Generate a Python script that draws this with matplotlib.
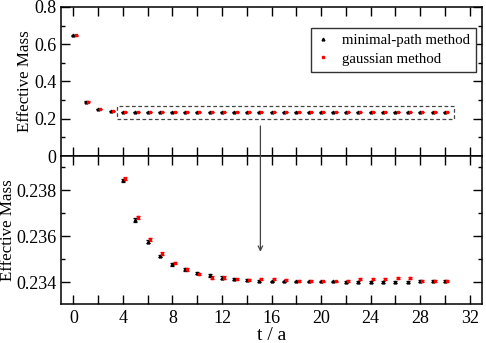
import numpy as np
import matplotlib.pyplot as plt
from matplotlib.patches import Rectangle, ConnectionPatch
from matplotlib.lines import Line2D
from matplotlib.ticker import MultipleLocator

plt.rcParams['font.family'] = ['Liberation Serif', 'DejaVu Serif']

# time slices
t = np.arange(0, 31)

# effective mass, minimal-path method (black)
m_path = [0.647, 0.291, 0.251, 0.2425,
          0.23843, 0.2367, 0.23575, 0.23514, 0.23477, 0.23455, 0.23439,
          0.23429, 0.2342, 0.23413, 0.2341, 0.23406, 0.23403, 0.23403,
          0.23403, 0.23403, 0.23403, 0.23403, 0.23402, 0.23399, 0.234,
          0.234, 0.234, 0.234, 0.23406, 0.23406, 0.23404]
e_path = [0.002, 0.002, 0.001, 0.001,
          0.00007, 0.00007, 0.00007, 0.00006, 0.00005, 0.00005, 0.00005,
          0.00005, 0.00005, 0.00004, 0.00004, 0.00004, 0.00004, 0.00004,
          0.00004, 0.00004, 0.00004, 0.00004, 0.00004, 0.00004, 0.00004,
          0.00004, 0.00004, 0.00004, 0.00004, 0.00004, 0.00004]

# effective mass, gaussian method (red)
m_gauss = [0.647, 0.291, 0.251, 0.2425,
           0.23849, 0.23681, 0.23587, 0.23523, 0.23483, 0.23455, 0.23436,
           0.2342, 0.2342, 0.23413, 0.2341, 0.23414, 0.23413, 0.23409,
           0.23406, 0.23404, 0.23403, 0.23403, 0.23406, 0.23412, 0.23414,
           0.23414, 0.23417, 0.23417, 0.23406, 0.23406, 0.23404]
e_gauss = [0.002, 0.002, 0.001, 0.001,
           0.00007, 0.00007, 0.00007, 0.00006, 0.00005, 0.00005, 0.00005,
           0.00005, 0.00005, 0.00004, 0.00004, 0.00004, 0.00004, 0.00004,
           0.00004, 0.00004, 0.00004, 0.00004, 0.00004, 0.00004, 0.00004,
           0.00004, 0.00004, 0.00004, 0.00004, 0.00004, 0.00004]

labels = ['minimal-path method', 'gaussian method']

dx = 0.18   # red points shifted a bit to the right
t_zoom = 4  # first slice shown in lower panel

fig = plt.figure(figsize=(4.86, 3.43), dpi=100)
ax1 = fig.add_axes([0.1255, 0.545, 0.8665, 0.435])
ax2 = fig.add_axes([0.1255, 0.1137, 0.8665, 0.4313])

def plot_pts(ax, sl):
    ax.errorbar(t[sl], np.array(m_path)[sl], yerr=np.array(e_path)[sl], fmt='^',
                color='k', ms=2.0, elinewidth=0.9, capsize=1.5, capthick=0.9)
    ax.errorbar(t[sl] + dx, np.array(m_gauss)[sl], yerr=np.array(e_gauss)[sl], fmt='s',
                color='red', ms=1.7, elinewidth=0.9, capsize=1.5, capthick=0.9)

plot_pts(ax1, slice(0, None))
plot_pts(ax2, slice(t_zoom, None))

for ax in (ax1, ax2):
    ax.set_xlim(-1, 33)
    ax.xaxis.set_major_locator(MultipleLocator(4))
    ax.xaxis.set_minor_locator(MultipleLocator(2))
    ax.tick_params(which='both', direction='in', top=True, right=True, width=1,
                   labelsize=13)
    ax.tick_params(which='major', length=6.5)
    ax.tick_params(which='minor', length=3.2)
    ax.tick_params(axis='x', which='minor', length=6.5)
    for s in ax.spines.values():
        s.set_linewidth(1.1)

ax1.set_ylim(0, 0.8)
ax1.set_yticks([0, 0.2, 0.4, 0.6, 0.8], ['0', '0.2', '0.4', '0.6', '0.8'])
ax1.yaxis.set_minor_locator(MultipleLocator(0.1))
ax1.tick_params(axis='x', labelbottom=False)
ax1.set_ylabel('Effective Mass', fontsize=12.2)
ax1.yaxis.set_label_coords(-0.066, 0.5)

ax2.set_ylim(0.23305, 0.23948)
ax2.set_yticks([0.234, 0.236, 0.238])
ax2.yaxis.set_minor_locator(MultipleLocator(0.001))
ax2.tick_params(axis='x', pad=4)
ax2.set_ylabel('Effective Mass', fontsize=12.2)
ax2.yaxis.set_label_coords(-0.108, 0.5)
ax2.set_xlabel('t / a', fontsize=14, labelpad=0)

handles = [Line2D([], [], ls='none', marker='^', color='k', ms=2.0),
           Line2D([], [], ls='none', marker='s', color='red', ms=1.7)]
leg = ax1.legend(handles, labels, loc='upper right', bbox_to_anchor=(0.986, 0.86),
                 borderaxespad=0, fontsize=10.7, frameon=True, fancybox=False,
                 edgecolor='#333333', framealpha=1, handlelength=0.8,
                 handletextpad=0.9, borderpad=0.4, labelspacing=0.35, numpoints=1)
leg.get_frame().set_linewidth(1)

# dashed box marking the zoomed region
ax1.add_patch(Rectangle((3.5, 0.2), 27.2, 0.07, fill=False, ls=(0, (3, 2)),
                        lw=0.9, ec='#444444'))

# arrow from box to lower panel
arr = ConnectionPatch(xyA=(15.1, 0.161), coordsA=ax1.transData,
                      xyB=(15.1, 0.23532), coordsB=ax2.transData,
                      arrowstyle='->', color='#444444', lw=0.9,
                      mutation_scale=8)
fig.add_artist(arr)

fig.savefig('out.png', dpi=100)
